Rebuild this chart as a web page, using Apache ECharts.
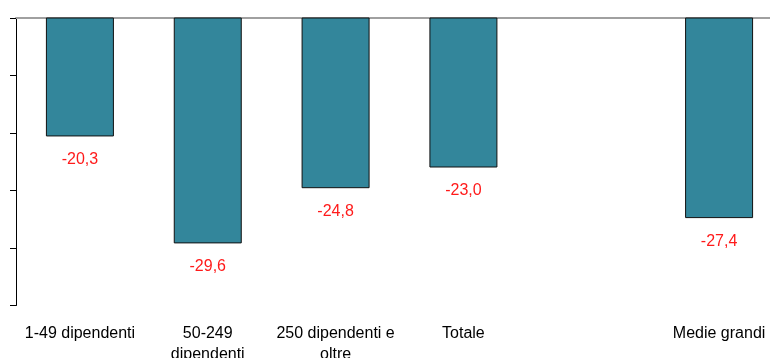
<!DOCTYPE html>
<html>
<head>
<meta charset="utf-8">
<script src="https://cdn.jsdelivr.net/npm/echarts@6/dist/echarts.min.js"></script>
<style>
  html, body { margin: 0; padding: 0; background: #fff; overflow: hidden; }
  #chart { width: 770px; height: 358px; }
</style>
</head>
<body>
<div id="chart"></div>
<script>
// Variazione percentuale per classe dimensionale d'impresa
const categories = ['1-49 dipendenti', '50-249\ndipendenti', '250 dipendenti e\noltre', 'Totale', '', 'Medie grandi'];
const values = [-20.3, -29.6, -24.8, -23.0, null, -27.4];
const yMin = -35;
const yMax = -10;
const yStep = 5;

const fontFamily = '"Liberation Sans", Arial, sans-serif';

const chart = echarts.init(document.getElementById('chart'), null, { renderer: 'canvas' });
chart.setOption({
  animation: false,
  grid: { left: 16, top: 18, width: 767, height: 287.5, outerBoundsMode: 'none', containLabel: false },
  xAxis: [
    {
      type: 'category',
      data: categories,
      position: 'bottom',
      axisLine: { show: false },
      axisTick: { show: false },
      axisLabel: {
        interval: 0,
        margin: 17.5,
        fontFamily: fontFamily,
        fontSize: 16,
        lineHeight: 21,
        color: '#000'
      }
    },
    {
      type: 'category',
      data: categories,
      position: 'top',
      axisLine: { show: true, lineStyle: { color: '#a0a0a0', width: 2 } },
      axisTick: { show: false },
      axisLabel: { show: false }
    }
  ],
  yAxis: {
    type: 'value',
    min: yMin,
    max: yMax,
    interval: yStep,
    axisLine: { show: true, lineStyle: { color: '#000', width: 1 } },
    axisTick: { show: true, length: 6, lineStyle: { color: '#000' } },
    axisLabel: { show: false },
    splitLine: { show: false }
  },
  series: [
    {
      type: 'bar',
      data: values,
      xAxisIndex: 0,
      barWidth: 68,
      clip: true,
      itemStyle: { color: '#33869b', borderColor: '#111', borderWidth: 1 },
      label: {
        show: true,
        position: 'bottom',
        distance: 15,
        fontFamily: fontFamily,
        fontSize: 16,
        color: '#ff1a1a',
        formatter: p => p.value == null ? '' : p.value.toFixed(1).replace('.', ',')
      }
    }
  ]
});
</script>
</body>
</html>
